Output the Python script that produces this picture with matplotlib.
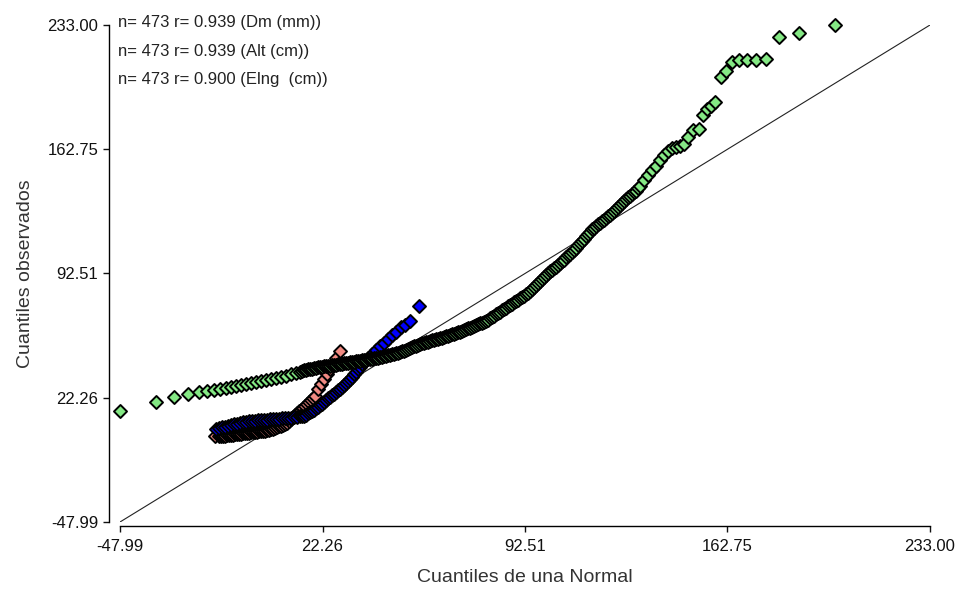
import numpy as np
import matplotlib.pyplot as plt

# quantile-quantile readings: normal quantile (x) vs observed quantile (y)
dm_x = [-15.04, -13.65, -12.96, -12.26, -11.57, -10.87, -10.18, -9.49, -8.80, -8.10,
        -7.41, -6.71, -6.02, -5.32, -4.63, -3.94, -3.25, -2.55, -1.86, -1.16,
        -0.47, 0.23, 0.92, 1.61, 2.31, 3.00, 3.70, 4.39, 5.09, 5.78,
        6.47, 7.16, 7.86, 8.55, 9.25, 9.94, 10.64, 11.33, 12.02, 12.71,
        13.41, 14.10, 14.80, 15.49, 16.19, 16.88, 17.57, 18.26, 18.96, 19.65,
        20.69, 21.73, 22.78, 23.82, 24.86, 25.90, 26.94, 28.33]
dm_y = [0.65, 0.37, 0.51, 0.65, 0.80, 0.94, 1.08, 1.22, 1.37, 1.51,
        1.65, 1.79, 1.93, 2.07, 2.22, 2.36, 2.50, 2.64, 2.79, 2.93,
        3.07, 3.21, 3.36, 3.50, 3.64, 3.78, 4.07, 4.35, 4.78, 5.20,
        5.63, 6.06, 6.49, 6.91, 7.34, 7.76, 8.90, 10.03, 11.17, 12.31,
        13.45, 14.58, 15.58, 16.58, 17.58, 18.57, 19.71, 20.84, 22.12, 23.40,
        27.10, 30.23, 33.07, 35.63, 38.47, 41.31, 44.73, 48.71]

alt_x = [-14.69, -13.65, -12.61, -11.57, -10.53, -9.49, -8.45, -7.41, -6.36, -5.32,
         -4.28, -3.24, -2.20, -1.16, -0.12, 0.92, 1.96, 3.00, 4.04, 5.08,
         6.12, 7.17, 8.21, 9.25, 10.29, 11.33, 12.37, 13.41, 14.45, 15.15,
         15.84, 16.54, 17.23, 17.92, 18.61, 19.31, 20.00, 20.70, 21.39, 22.09,
         22.78, 23.47, 24.16, 24.86, 25.55, 26.25, 26.94, 27.64, 28.33, 29.02,
         29.71, 30.41, 31.10, 31.80, 32.49, 33.19, 33.88, 34.57, 35.26, 35.96,
         36.65, 38.04, 39.43, 40.81, 42.20, 43.59, 44.98, 46.36, 47.75, 49.48,
         50.87, 52.60, 55.73]
alt_y = [4.63, 5.06, 5.48, 5.91, 6.34, 6.77, 7.19, 7.62, 8.04, 8.33,
         8.61, 8.90, 9.18, 9.33, 9.47, 9.61, 9.75, 9.90, 10.04, 10.18,
         10.32, 10.46, 10.60, 10.75, 10.89, 11.03, 11.17, 11.46, 11.74, 11.88,
         12.02, 12.74, 13.45, 14.16, 14.87, 15.58, 16.29, 17.15, 18.00, 19.00,
         19.99, 20.99, 21.98, 22.83, 23.68, 24.54, 25.39, 26.39, 27.38, 28.38,
         29.37, 30.51, 31.65, 32.93, 34.21, 35.63, 37.05, 38.47, 39.89, 41.32,
         42.74, 45.01, 47.01, 49.28, 51.27, 53.26, 55.54, 57.53, 59.52, 62.19,
         63.50, 65.60, 74.14]

elng_x = [-47.99, -35.61, -29.16, -24.51, -20.59, -17.81, -15.38, -13.30, -11.22, -9.49,
          -7.75, -6.02, -4.28, -2.55, -0.81, 0.92, 2.66, 4.39, 6.12, 7.86,
          9.59, 11.33, 13.06,
          14.45, 15.14, 15.84, 16.53, 17.23, 17.92, 18.61, 19.31, 20.00, 20.69,
          21.39, 22.08, 22.78, 23.47, 24.16, 24.85, 25.55, 26.24, 26.94, 27.63,
          28.33, 29.02, 29.71, 30.40, 31.10, 31.79, 32.49, 33.18, 33.88, 34.57,
          35.26, 35.95, 36.65, 37.34, 38.04, 38.73, 39.43, 40.12, 40.81, 41.50,
          42.20, 42.89, 43.59, 44.28, 44.98, 45.67, 46.36, 47.05, 47.75, 48.44,
          49.14, 49.83, 50.53, 51.22, 51.91, 52.60, 53.30, 53.99, 54.69, 55.38,
          56.08, 56.77, 57.46, 58.15, 58.85, 59.54, 60.24, 60.93, 61.63, 62.32,
          63.01, 63.70, 64.40, 65.09, 65.79, 66.48, 67.18, 67.87, 68.56, 69.25,
          69.95, 70.64, 71.34, 72.03, 72.73, 73.42, 74.11, 74.80, 75.50, 76.19,
          76.89, 77.58, 78.28, 78.97, 79.66, 80.35, 81.05, 81.74, 82.44, 83.13,
          83.83, 84.52, 85.21, 85.90, 86.60, 87.29, 87.99, 88.68, 89.38, 90.07,
          90.76, 91.45, 92.15, 92.84, 93.54, 94.23, 94.93, 95.62, 96.31, 97.00,
          97.70, 98.39, 99.09, 99.78, 100.48, 101.17, 101.86, 102.55, 103.25, 103.94,
          104.64, 105.33, 106.03, 106.72, 107.41, 108.10, 108.80, 109.49, 110.19, 110.88,
          111.58, 112.27, 112.96, 113.65, 114.35, 115.04, 115.74, 116.43, 117.13, 117.82,
          118.51, 119.20, 119.90, 120.59, 121.29, 121.98, 122.68, 123.37, 124.06, 124.75,
          125.45, 126.14, 126.84, 127.53, 128.23, 128.92, 129.61, 130.30, 131.00, 131.69,
          132.39, 133.78, 135.16, 136.55, 137.94, 139.33, 140.71, 142.10, 143.49, 144.88,
          146.26, 147.65, 149.04,
          150.78, 152.86, 154.25, 155.64, 157.03, 158.41, 160.49, 162.23, 164.31, 166.74,
          169.51, 172.64, 176.11, 180.62, 187.55, 200.04]
elng_y = [14.87, 19.87, 22.72, 24.25, 25.39, 26.24, 26.81, 27.38, 27.95, 28.23,
          28.80, 29.37, 29.94, 30.51, 31.08, 31.93, 32.50, 33.07, 33.64, 34.21,
          34.78, 35.63, 36.20,
          37.00, 37.37, 37.73, 37.99, 38.25, 38.48, 38.70, 38.96, 39.21, 39.41,
          39.61, 39.78, 39.95, 40.12, 40.29, 40.47, 40.64, 40.81, 40.98, 41.15,
          41.32, 41.52, 41.72, 41.89, 42.06, 42.26, 42.46, 42.63, 42.80, 43.00,
          43.20, 43.40, 43.59, 43.79, 43.99, 44.16, 44.33, 44.53, 44.73, 44.93,
          45.13, 45.42, 45.70, 45.99, 46.27, 46.56, 46.84, 47.12, 47.40, 47.69,
          47.97, 48.46, 48.94, 49.40, 49.85, 50.34, 50.82, 51.28, 51.73, 52.21,
          52.69, 53.01, 53.32, 53.66, 54.00, 54.32, 54.63, 54.97, 55.31, 55.62,
          55.92, 56.30, 56.68, 57.05, 57.41, 57.81, 58.21, 58.58, 58.95, 59.32,
          59.69, 60.09, 60.49, 60.97, 61.45, 61.94, 62.42, 62.88, 63.33, 63.82,
          64.30, 64.76, 65.21, 65.78, 66.35, 67.12, 67.88, 68.62, 69.36, 70.13,
          70.90, 71.67, 72.43, 73.20, 73.97, 74.71, 75.45, 76.22, 76.98, 77.72,
          78.46, 79.23, 80.00, 80.85, 81.70, 82.84, 83.98, 85.12, 86.25, 87.39,
          88.53, 89.67, 90.80, 91.89, 92.97, 93.82, 94.67, 95.55, 96.43, 97.32,
          98.20, 99.31, 100.42, 101.56, 102.69, 103.80, 104.91, 106.02, 107.13, 108.35,
          109.57, 110.91, 112.25, 113.56, 114.86, 116.17, 117.48, 118.48, 119.47, 120.35,
          121.23, 122.12, 123.00, 123.88, 124.76, 125.79, 126.81, 127.92, 129.03, 130.14,
          131.25, 132.39, 133.52, 134.58, 135.63, 136.54, 137.45, 138.36, 139.26, 140.63,
          142.00, 145.29, 148.37, 150.98, 153.37, 156.50, 159.63, 161.79, 163.61, 164.07,
          164.75, 165.60, 169.87,
          173.85, 174.42, 182.38, 185.23, 186.93, 189.21, 203.43, 206.84, 211.96, 213.09,
          213.09, 213.09, 213.66, 226.18, 228.45, 233.00]

labels = ["n= 473 r= 0.939 (Dm (mm))",
          "n= 473 r= 0.939 (Alt (cm))",
          "n= 473 r= 0.900 (Elng  (cm))"]
ticks = [-47.99, 22.26, 92.51, 162.75, 233.00]
ref_line = [-47.99, 233.00]

plt.rcParams['font.family'] = ['Liberation Sans', 'DejaVu Sans']

fig = plt.figure(figsize=(9.62, 5.89), dpi=100)
ax = fig.add_axes([120 / 962, 67 / 589, 810 / 962, 497 / 589])

ax.plot(ref_line, ref_line, color='#222222', lw=0.8, zorder=1)

mk = dict(marker='D', s=44, edgecolors='black', linewidths=1.4, clip_on=False, zorder=2)
ax.scatter(dm_x, dm_y, c='#f08a82', **mk)
ax.scatter(alt_x, alt_y, c='#0000ff', **mk)
ax.scatter(elng_x, elng_y, c='#84e884', **mk)

ax.set_xlim(ticks[0], ticks[-1])
ax.set_ylim(ticks[0], ticks[-1])
ax.set_xticks(ticks)
ax.set_yticks(ticks)
ax.set_xticklabels(['%.2f' % t for t in ticks])
ax.set_yticklabels(['%.2f' % t for t in ticks])

for s in ['top', 'right']:
    ax.spines[s].set_visible(False)
ax.spines['left'].set_position(('outward', 8))
ax.spines['bottom'].set_position(('outward', 3))
ax.spines['left'].set_bounds(ticks[0], ticks[-1])
ax.spines['bottom'].set_bounds(ticks[0], ticks[-1])
for s in ['left', 'bottom']:
    ax.spines[s].set_linewidth(1.0)
ax.tick_params(direction='out', length=4, width=1.0, labelsize=12, colors='#111111')
ax.tick_params(axis='x', pad=5)

ax.set_xlabel('Cuantiles de una Normal', fontsize=14, color='#333333', labelpad=11)
ax.set_ylabel('Cuantiles observados', fontsize=14, color='#333333', labelpad=10)

for i, lab in enumerate(labels):
    fig.text(118 / 962, 1 - (23 + 28.5 * i) / 589, lab, fontsize=12,
             color='#222222', va='center', ha='left')

fig.savefig('out.png', dpi=100)
